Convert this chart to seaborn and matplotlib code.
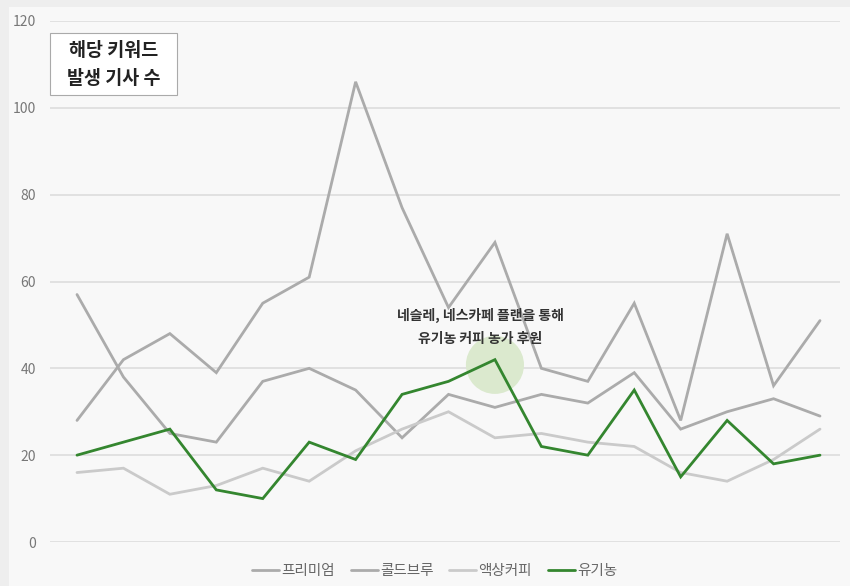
import matplotlib
matplotlib.use("Agg")
import matplotlib.pyplot as plt
import seaborn as sns
import pandas as pd
from matplotlib.patches import Rectangle

# monthly keyword article counts
periods = list(range(17))
premium = [28, 42, 48, 39, 55, 61, 106, 77, 54, 69, 40, 37, 55, 28, 71, 36, 51]
coldbrew = [57, 38, 25, 23, 37, 40, 35, 24, 34, 31, 34, 32, 39, 26, 30, 33, 29]
liquid = [16, 17, 11, 13, 17, 14, 21, 26, 30, 24, 25, 23, 22, 16, 14, 19, 26]
organic = [20, 23, 26, 12, 10, 23, 19, 34, 37, 42, 22, 20, 35, 15, 28, 18, 20]
series_names = ["프리미엄", "콜드브루", "액상커피", "유기농"]
y_ticks = [0, 20, 40, 60, 80, 100, 120]
highlight_idx = 9

df = pd.DataFrame({
    "t": periods * 4,
    "count": premium + coldbrew + liquid + organic,
    "keyword": [n for n in series_names for _ in periods],
})

sns.set_theme(style="white")
plt.rcParams["font.family"] = ["Noto Sans CJK KR", "DejaVu Sans"]

W, H = 850, 586
fig = plt.figure(figsize=(8.5, 5.86), dpi=100, facecolor="#eeeeee")
fig.patches.append(Rectangle((9 / W, 0), 1, 1 - 7 / H, transform=fig.transFigure,
                             facecolor="#f8f8f8", edgecolor="none", zorder=-5))
ax = fig.add_axes([50 / W, 1 - 542 / H, 790 / W, 521 / H])
ax.set_facecolor("none")

palette = {"프리미엄": "#ababab", "콜드브루": "#ababab", "액상커피": "#cacaca", "유기농": "#34862f"}

# highlight circle behind the organic peak
ax.scatter([highlight_idx], [organic[highlight_idx] - 1.2], s=1750, color="#dbe9ce",
           edgecolor="none", zorder=1)

sns.lineplot(data=df, x="t", y="count", hue="keyword", palette=palette,
             linewidth=2.0, ax=ax, legend=True, zorder=3)
for line in ax.lines:
    line.set_solid_joinstyle("miter")

ax.set_ylim(0, 120)
ax.set_xlim(-27 / 46.44, 16 + 20 / 46.44)
ax.set_yticks(y_ticks)
ax.set_xticks([])
ax.set_xlabel("")
ax.set_ylabel("")
ax.tick_params(axis="y", length=0, pad=10, labelsize=10, labelcolor="#777777")
ax.grid(axis="y", color="#dddddd", linewidth=1.2)
ax.set_axisbelow(True)
for s in ax.spines.values():
    s.set_visible(False)

ax.text(8.68, 49.6, "네슬레, 네스카페 플랜을 통해\n유기농 커피 농가 후원", ha="center", va="center",
        fontsize=10, fontweight="bold", color="#333333", linespacing=1.8, zorder=4)

# title box
fig.patches.append(Rectangle((50 / W, 1 - 95 / H), 127 / W, 62 / H, transform=fig.transFigure,
                             facecolor="white", edgecolor="#aaaaaa", linewidth=0.8, zorder=5))
fig.text(113.5 / W, 1 - 64 / H, "해당 키워드\n발생 기사 수", ha="center", va="center",
         fontsize=13.3, fontweight="bold", color="#222222", linespacing=1.6, zorder=6)

handles, labels = ax.get_legend_handles_labels()
ax.legend(handles, labels, loc="center", bbox_to_anchor=(0.487, -0.055), ncol=4, frameon=False,
          fontsize=10.5, labelcolor="#666666", handlelength=1.85, handletextpad=0.15,
          columnspacing=1.1)

fig.savefig("out.png", dpi=100, facecolor=fig.get_facecolor())
